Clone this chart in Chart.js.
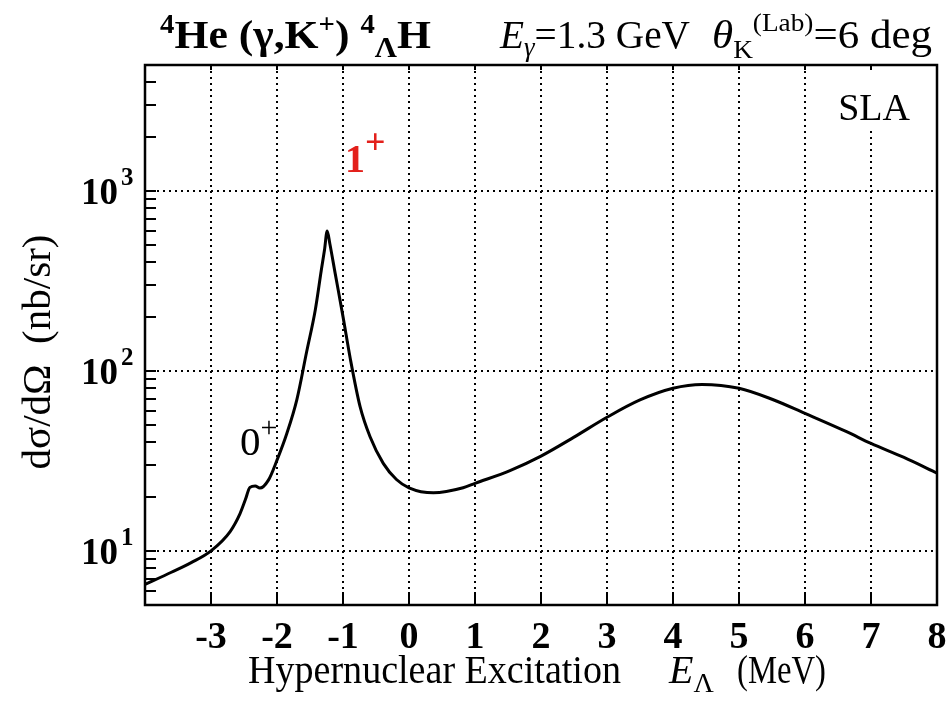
<!DOCTYPE html>
<html>
<head>
<meta charset="utf-8">
<script src="https://cdn.jsdelivr.net/npm/chart.js@4.4.1/dist/chart.umd.min.js"></script>
<style>
  html, body { margin: 0; padding: 0; background: #fff; }
  canvas { display: block; }
</style>
</head>
<body>
<canvas id="xsec" width="946" height="702"></canvas>
<script>
/* Excitation energy E_Lambda (MeV) and d sigma / d Omega (nb/sr) */
var ENERGY = [-4.0, -3.6, -3.3, -3.0, -2.71, -2.56, -2.48, -2.41, -2.33, -2.26, -2.13,
              -2.0, -1.85, -1.70, -1.55, -1.42, -1.33, -1.28, -1.24, -1.20, -1.12, -1.0,
              -0.89, -0.74, -0.59, -0.39, -0.19, 0.0, 0.37, 0.82, 1.0, 1.53, 2.0, 2.5,
              3.0, 3.5, 4.0, 4.44, 5.0, 5.5, 6.0, 6.63, 7.0, 7.5, 8.0];
var XSEC   = [6.5, 7.6, 8.6, 10.0, 12.8, 16.1, 19.2, 22.5, 22.9, 22.3, 24.7,
              31.9, 45, 69, 128, 218, 360, 470, 598, 510, 350, 200,
              117, 63, 43, 30.6, 24.9, 22.4, 21.0, 22.4, 23.7, 27.9, 33.6, 42.8,
              55.2, 68.9, 80, 84, 80, 69.5, 58, 45.9, 39.5, 33, 27];

/* axis ticks */
var X_TICKS  = [-3, -2, -1, 0, 1, 2, 3, 4, 5, 6, 7, 8];
var Y_DECADE = [1, 2, 3];               /* labelled powers of ten */
var Y_MINOR  = [6, 7, 8, 9, 10, 20, 30, 40, 50, 60, 70, 80, 90, 100,
                200, 300, 400, 500, 600, 700, 800, 900, 1000, 2000, 3000, 4000];

/* text labels placed in data units */
var LABEL_0PLUS = { x: -2.56, y: 34 };
var LABEL_1PLUS = { x: -0.97, y: 1270 };
var LABEL_SLA   = { x: 7.59,  y: 2470 };

var SERIF = "'Liberation Serif', 'Times New Roman', serif";
function font(size, style) { return (style ? style + ' ' : '') + size + 'px ' + SERIF; }

/* draw a run of text pieces (for super/subscripts); fitW squeezes/stretches the run */
function rich(ctx, x, y, parts, align, fitW) {
  var w = 0;
  parts.forEach(function (p) { ctx.font = p.font; w += ctx.measureText(p.t).width; });
  var sx = fitW ? fitW / w : 1;
  var ww = w * sx;
  var x0 = align === 'center' ? x - ww / 2 : (align === 'right' ? x - ww : x);
  ctx.save();
  ctx.translate(x0, y);
  ctx.scale(sx, 1);
  ctx.textAlign = 'left';
  ctx.textBaseline = 'alphabetic';
  var cx = 0;
  parts.forEach(function (p) {
    ctx.font = p.font;
    ctx.fillStyle = p.color || '#000';
    ctx.fillText(p.t, cx, p.dy || 0);
    cx += ctx.measureText(p.t).width;
  });
  ctx.restore();
}

function seg(ctx, x1, y1, x2, y2) {
  ctx.beginPath(); ctx.moveTo(x1, y1); ctx.lineTo(x2, y2); ctx.stroke();
}

var gridPlugin = {
  id: 'dottedGrid',
  beforeDatasetsDraw: function (chart) {
    var ctx = chart.ctx, a = chart.chartArea, xs = chart.scales.x, ys = chart.scales.y;
    ctx.save();
    ctx.strokeStyle = '#000';
    ctx.lineWidth = 2;
    ctx.setLineDash([2, 4]);
    X_TICKS.forEach(function (v) {
      if (v <= xs.min || v >= xs.max) return;
      var px = Math.round(xs.getPixelForValue(v));
      seg(ctx, px, a.top, px, a.bottom);
    });
    Y_DECADE.forEach(function (p) {
      var py = Math.round(ys.getPixelForValue(Math.pow(10, p)));
      seg(ctx, a.left, py, a.right, py);
    });
    ctx.restore();
  }
};

var framePlugin = {
  id: 'frameAndText',
  afterDatasetsDraw: function (chart) {
    var ctx = chart.ctx, a = chart.chartArea, xs = chart.scales.x, ys = chart.scales.y;
    ctx.save();

    /* white patch behind the SLA tag */
    ctx.fillStyle = '#fff';
    ctx.fillRect(822, a.top, a.right - 822, 65);

    ctx.strokeStyle = '#000';
    ctx.lineWidth = 2;
    X_TICKS.forEach(function (v) {
      var px = Math.round(xs.getPixelForValue(v));
      seg(ctx, px, a.bottom, px, a.bottom - 13);
      seg(ctx, px, a.top, px, a.top + 5);
    });
    Y_MINOR.forEach(function (v) {
      var py = Math.round(ys.getPixelForValue(v));
      seg(ctx, a.left, py, a.left + 11, py);
    });
    ctx.lineWidth = 2.5;
    ctx.strokeRect(a.left, a.top, a.right - a.left, a.bottom - a.top);

    /* tick labels */
    ctx.fillStyle = '#000';
    X_TICKS.forEach(function (v) {
      ctx.font = font(38, 'bold');
      ctx.textAlign = 'center';
      ctx.textBaseline = 'alphabetic';
      ctx.fillText(v < 0 ? '-' + (-v) : String(v), xs.getPixelForValue(v), 648);
    });
    Y_DECADE.forEach(function (p) {
      var py = ys.getPixelForValue(Math.pow(10, p));
      ctx.font = font(37, 'bold');
      ctx.textAlign = 'right';
      ctx.textBaseline = 'alphabetic';
      ctx.fillText('10', 118, py + 13);
      ctx.font = font(25, 'bold');
      ctx.textAlign = 'left';
      ctx.fillText(String(p), 121, py - 6);
    });

    /* title */
    var B = font(41, 'bold'), Bs = font(27, 'bold');
    rich(ctx, 160, 48, [
      { t: '4', font: Bs, dy: -15 }, { t: 'He (\u03b3,K', font: B }, { t: '+', font: Bs, dy: -15 },
      { t: ') ', font: B }, { t: '4', font: Bs, dy: -15 }, { t: '\u039b', font: font(29, 'bold'), dy: 9 },
      { t: 'H', font: B }
    ], 'left', 271);
    rich(ctx, 500, 48, [
      { t: 'E', font: font(41, 'italic') }, { t: '\u03b3', font: font(28, 'italic'), dy: 8 },
      { t: '=1.3 GeV', font: font(41) }
    ], 'left', 190);
    rich(ctx, 712, 48, [
      { t: '\u03b8', font: font(41, 'italic') }, { t: 'K', font: font(26), dy: 10 },
      { t: '(Lab)', font: font(26), dy: -17 }, { t: '=6 deg', font: font(41) }
    ], 'left', 220);

    /* axis titles */
    rich(ctx, 248, 683, [{ t: 'Hypernuclear Excitation', font: font(40) }], 'left', 373);
    rich(ctx, 669, 683, [
      { t: 'E', font: font(40, 'italic') }, { t: '\u039b', font: font(28), dy: 9 }
    ]);
    rich(ctx, 737, 683, [{ t: '(MeV)', font: font(40) }], 'left', 89);
    ctx.save();
    ctx.translate(50, 352);
    ctx.rotate(-Math.PI / 2);
    rich(ctx, 0, 0, [{ t: 'd\u03c3/d\u03a9  (nb/sr)', font: font(40) }], 'center', 235);
    ctx.restore();

    /* state labels */
    rich(ctx, xs.getPixelForValue(LABEL_0PLUS.x), ys.getPixelForValue(LABEL_0PLUS.y), [
      { t: '0', font: font(41) }, { t: '+', font: font(30), dy: -18 }
    ]);
    rich(ctx, xs.getPixelForValue(LABEL_1PLUS.x), ys.getPixelForValue(LABEL_1PLUS.y), [
      { t: '1', font: font(40, 'bold'), color: '#e3201b' },
      { t: '+', font: font(36, 'bold'), dy: -18, color: '#e3201b' }
    ]);
    rich(ctx, xs.getPixelForValue(LABEL_SLA.x), ys.getPixelForValue(LABEL_SLA.y), [
      { t: 'SLA', font: font(38) }
    ], 'right');

    ctx.restore();
  }
};

var points = ENERGY.map(function (e, i) { return { x: e, y: XSEC[i] }; });

new Chart(document.getElementById('xsec'), {
  type: 'line',
  data: {
    datasets: [{
      data: points,
      borderColor: '#000',
      borderWidth: 3,
      pointRadius: 0,
      fill: false,
      cubicInterpolationMode: 'monotone'
    }]
  },
  options: {
    responsive: false,
    animation: false,
    layout: { padding: { left: 145, right: 9, top: 65, bottom: 97 } },
    plugins: { legend: { display: false }, tooltip: { enabled: false } },
    scales: {
      x: { type: 'linear', min: -4, max: 8, display: false },
      y: { type: 'logarithmic', min: 5, max: 5000, display: false }
    }
  },
  plugins: [gridPlugin, framePlugin]
});
</script>
</body>
</html>
